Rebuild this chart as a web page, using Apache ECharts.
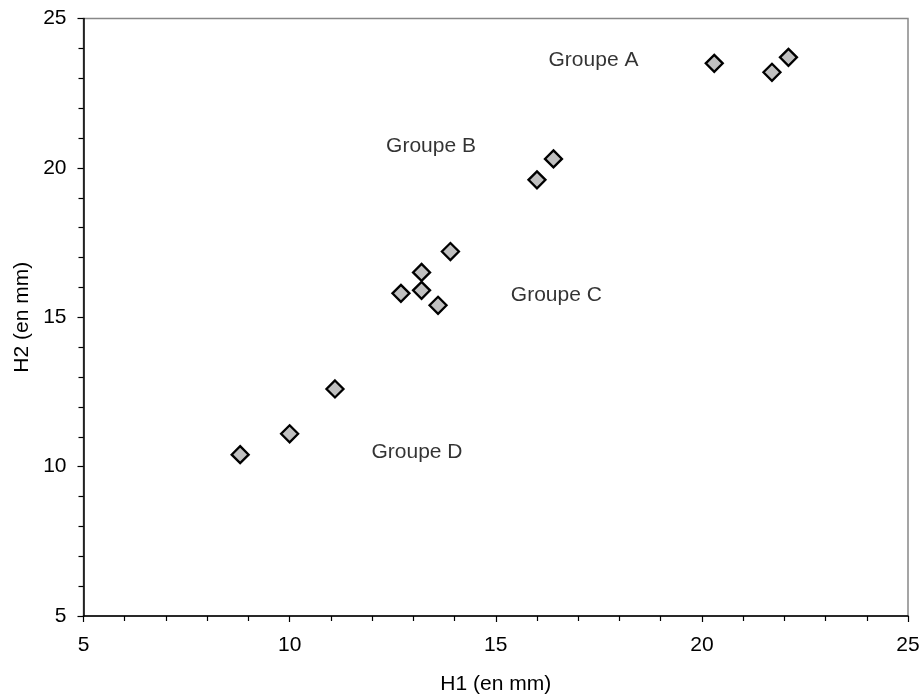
<!DOCTYPE html>
<html><head><meta charset="utf-8">
<script src="https://cdn.jsdelivr.net/npm/echarts@6/dist/echarts.min.js"></script>
<style>html,body{margin:0;padding:0;background:#fff}#c{width:924px;height:700px}</style>
</head><body><div id="c"></div>
<script>
const h1Values = [8.8, 10.0, 11.1, 12.7, 13.2, 13.2, 13.6, 13.9, 16.0, 16.4, 20.3, 21.7, 22.1];
const h2Values = [10.4, 11.1, 12.6, 15.8, 16.5, 15.9, 15.4, 17.2, 19.6, 20.3, 23.5, 23.2, 23.7];
const groupNames = ['Groupe A', 'Groupe B', 'Groupe C', 'Groupe D'];
const groupX = [17.37, 13.43, 16.47, 13.09];
const groupY = [23.61, 20.74, 15.73, 10.48];
const xTitle = 'H1 (en mm)';
const yTitle = 'H2 (en mm)';

const font = 'Liberation Sans, Arial, sans-serif';
const chart = echarts.init(document.getElementById('c'));
const axisCommon = {
  min: 5, max: 25, interval: 5,
  axisLine: {show: true, lineStyle: {color: '#000', width: 1.5}},
  axisTick: {show: true, inside: false, length: 6, lineStyle: {color: '#000', width: 1.2}},
  minorTick: {show: true, splitNumber: 5, length: 5, lineStyle: {color: '#000', width: 1.2}},
  splitLine: {show: false},
  axisLabel: {color: '#000', fontSize: 21, fontFamily: font},
  nameTextStyle: {color: '#000', fontSize: 21, fontFamily: font}
};
chart.setOption({
  animation: false,
  backgroundColor: '#fff',
  grid: {left: 83.5, top: 18.5, right: 16, bottom: 83, show: true, borderColor: '#888', borderWidth: 1.5},
  xAxis: Object.assign({}, axisCommon, {
    type: 'value', name: xTitle, nameLocation: 'middle', nameGap: 58,
    axisLabel: Object.assign({}, axisCommon.axisLabel, {margin: 19})
  }),
  yAxis: Object.assign({}, axisCommon, {
    type: 'value', name: yTitle, nameLocation: 'middle', nameGap: 50, nameRotate: 90,
    axisLabel: Object.assign({}, axisCommon.axisLabel, {margin: 17})
  }),
  series: [
    {
      type: 'scatter',
      data: h1Values.map((x, i) => [x, h2Values[i]]),
      symbol: 'diamond', symbolSize: 17,
      itemStyle: {color: '#c0c0c0', borderColor: '#000', borderWidth: 2.3, opacity: 1}
    },
    {
      type: 'scatter',
      data: groupNames.map((n, i) => ({value: [groupX[i], groupY[i]], name: n})),
      symbolSize: 0,
      label: {show: true, position: 'inside', formatter: p => p.name, color: '#000', fontSize: 21, fontFamily: font},
      silent: true
    }
  ]
});
</script></body></html>
